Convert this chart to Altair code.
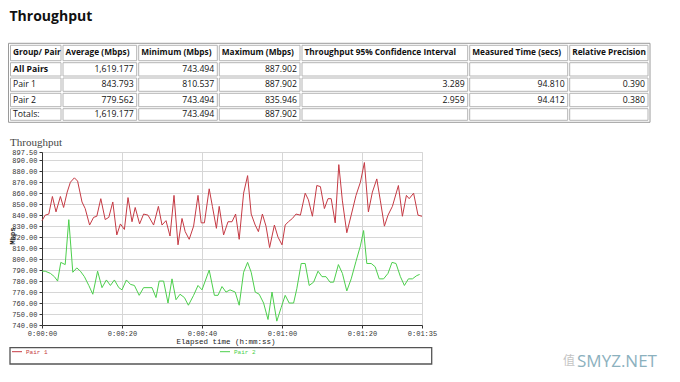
import altair as alt
import pandas as pd

# ---------------- data ----------------
page_title = "Throughput"
chart_title = "Throughput"

columns = ["Group/ Pair", "Average (Mbps)", "Minimum (Mbps)", "Maximum (Mbps)",
           "Throughput 95% Confidence Interval", "Measured Time (secs)", "Relative Precision"]
row_labels = ["All Pairs", "Pair 1", "Pair 2", "Totals:"]
avg_mbps = ["1,619.177", "843.793", "779.562", "1,619.177"]
min_mbps = ["743.494", "810.537", "743.494", "743.494"]
max_mbps = ["887.902", "887.902", "835.946", "887.902"]
conf_int = ["", "3.289", "2.959", ""]
meas_time = ["", "94.810", "94.412", ""]
rel_prec = ["", "0.390", "0.380", ""]

series_names = ["Pair 1", "Pair 2"]
series_colors = ["#c53a44", "#4ccf4c"]

pair1_t = [0.0, 0.8, 1.7, 2.6, 3.5, 4.6, 5.4, 6.3, 7.1, 8.1, 8.9, 10.0, 10.8, 11.9, 12.9, 13.7,
           14.7, 15.8, 16.7, 17.7, 18.7, 19.6, 20.6, 21.5, 22.5, 23.3, 24.4, 25.4, 26.5, 27.9,
           29.1, 30.0, 31.0, 32.0, 33.0, 34.0, 35.0, 35.8, 36.8, 37.9, 39.0, 39.8, 40.6, 41.8,
           42.6, 43.6, 44.3, 45.4, 46.5, 47.5, 48.4, 49.3, 50.4, 51.4, 52.3, 53.3, 54.1, 55.1,
           56.0, 56.9, 58.1, 59.0, 60.0, 60.8, 61.6, 62.6, 63.5, 64.6, 65.8, 66.6, 67.6, 68.7,
           69.6, 70.6, 71.5, 72.3, 73.3, 74.2, 75.1, 76.2, 77.3, 78.5, 79.6, 80.6, 81.6, 82.6,
           83.7, 84.6, 85.6, 86.5, 87.6, 89.1, 90.1, 91.1, 91.8, 92.9, 94.0, 95.0]
pair1_v = [835, 840, 841, 857, 843, 857, 847, 861, 870, 874, 871, 852, 846, 831, 838, 839,
           855, 836, 838, 852, 822, 832, 827, 856, 834, 847, 832, 841, 840, 831,
           848, 831, 835, 821, 858, 813, 837, 825, 818, 830, 858, 833, 833, 864,
           848, 828, 848, 822, 834, 834, 841, 818, 860, 876, 841, 831, 825, 841,
           830, 810.5, 831, 820, 813, 831, 834, 837, 841, 840, 860, 854, 839, 867,
           866, 846, 855, 855, 833, 886, 853, 824, 840, 858, 870, 887.9, 843, 861,
           873, 853, 830, 840, 848, 867, 839, 858, 855, 860, 840, 839]

pair2_t = [0.0, 0.8, 2.1, 3.1, 3.9, 4.7, 5.8, 6.7, 7.7, 8.7, 9.6, 10.6, 11.7, 12.7, 13.9, 15.0,
           16.1, 17.1, 18.1, 19.2, 20.0, 21.1, 22.1, 23.1, 24.3, 25.4, 26.5, 27.5, 28.5, 29.3,
           30.4, 31.5, 32.5, 33.5, 34.5, 35.6, 36.6, 37.9, 39.0, 40.0, 40.8, 41.8, 43.1, 44.0,
           45.0, 46.0, 47.0, 48.3, 49.3, 50.4, 51.4, 52.3, 53.3, 54.3, 55.4, 56.5, 57.5, 58.7,
           59.8, 60.8, 61.8, 62.9, 63.7, 64.8, 65.8, 66.8, 67.9, 69.0, 70.0, 71.0, 72.0, 72.9,
           74.1, 75.1, 76.2, 77.3, 78.5, 79.6, 80.4, 81.2, 82.3, 83.3, 84.3, 85.4, 86.5, 87.5,
           88.5, 89.6, 90.6, 91.6, 92.6, 93.7, 94.4]
pair2_v = [789, 789, 787, 784, 780, 797, 795, 835.9, 788, 792, 789, 784, 776, 768, 789, 774,
           781, 776, 781, 774, 772, 781, 777, 776, 767, 774, 774, 774, 765, 780,
           780, 760, 782, 763, 768, 765, 758, 767, 776, 772, 780, 790, 767, 767,
           775, 770, 772, 770, 758, 788, 797, 788, 770, 768, 760, 745, 770, 743.5,
           756, 767, 760, 760, 773, 796, 796, 776, 779, 789, 784, 784, 779, 779,
           795, 787, 771, 782, 798, 812, 826, 796, 796, 793, 782, 782, 787, 797,
           796, 784, 776, 782, 782, 785, 786]

x_tick_values = [0, 20, 40, 60, 80, 95]
y_tick_values = [740, 750, 760, 770, 780, 790, 800, 810, 820, 830, 840, 850, 860, 870, 880, 890, 897.5]
x_title = "Elapsed time (h:mm:ss)"
y_title = "Mbps"

# ---------------- layout ----------------
PAD_L, PAD_T, PAD_R, PAD_B = 34, 144, 250, 49
W, H = 380, 173


def vx(px):
    return px - 8 - PAD_L


def vy(py):
    return py - 8 - PAD_T


col_edges = [8.5, 61, 136.7, 217.3, 300, 467.7, 567.7, 650]
row_edges = [43.3, 60.7, 76.0, 91.3, 106.7, 122.3]
SANS = "Open Sans"
MONO = "Liberation Mono"
TFS = 8.7
HFS = 8.3

# ---------------- table frame ----------------
body_cols = [row_labels, avg_mbps, min_mbps, max_mbps, conf_int, meas_time, rel_prec]
cells = []
ncol = len(columns)
nrow = len(row_labels) + 1
for r in range(nrow):
    for c in range(ncol):
        x0 = col_edges[c] + 2
        x1 = col_edges[c + 1] if c < ncol - 1 else col_edges[c + 1] - 2
        y0 = row_edges[r] + 2
        y1 = row_edges[r + 1] if r < nrow - 1 else row_edges[r + 1] - 2
        if r == 0:
            text, kind = columns[c], "header"
        else:
            text = body_cols[c][r - 1]
            if c == 0:
                kind = "labelbold" if r == 1 else "label"
            else:
                kind = "num"
        tx = x0 + 2.5 if kind != "num" else x1 - 3
        cells.append(dict(x0=vx(x0), x1=vx(x1), y0=vy(y0), y1=vy(y1),
                          tx=vx(tx), ty=vy((y0 + y1) / 2 - 0.5), text=text, kind=kind))
cells = pd.DataFrame(cells)

outer = alt.Chart(pd.DataFrame({"a": [0]})).mark_rect(
    fill="white", stroke="#9a9a9a", strokeWidth=1).encode(
    x=alt.value(vx(col_edges[0])), x2=alt.value(vx(col_edges[-1])),
    y=alt.value(vy(row_edges[0])), y2=alt.value(vy(row_edges[-1])))

cell_rects = alt.Chart(cells).mark_rect(fill="white", stroke="#b4b4b4", strokeWidth=1).encode(
    x=alt.X("x0:Q", scale=None, axis=None), x2="x1:Q",
    y=alt.Y("y0:Q", scale=None, axis=None), y2="y1:Q")


def cell_text(kind, align, weight, size):
    return alt.Chart(cells).transform_filter(alt.datum.kind == kind).mark_text(
        align=align, baseline="middle", font=SANS, fontSize=size, fontWeight=weight,
        color="#111").encode(
        x=alt.X("tx:Q", scale=None, axis=None),
        y=alt.Y("ty:Q", scale=None, axis=None),
        text="text:N")


header_txt = cell_text("header", "left", "bold", HFS)
labelb_txt = cell_text("labelbold", "left", "bold", TFS)
label_txt = cell_text("label", "left", "normal", TFS)
num_txt = cell_text("num", "right", "normal", TFS)

# ---------------- line chart ----------------
lines_df = pd.concat([
    pd.DataFrame({"t": pair1_t, "v": pair1_v, "series": series_names[0]}),
    pd.DataFrame({"t": pair2_t, "v": pair2_v, "series": series_names[1]}),
])

x_label_expr = ("'0:' + (floor(datum.value/60) < 10 ? '0' : '') + floor(datum.value/60) + ':' + "
                "(datum.value % 60 < 10 ? '0' : '') + (datum.value % 60)")

lines = alt.Chart(lines_df).mark_line(strokeWidth=1).encode(
    x=alt.X("t:Q", scale=alt.Scale(domain=[0, 95], nice=False, zero=False),
            axis=alt.Axis(values=x_tick_values, labelExpr=x_label_expr, title=None,
                          labelFont=MONO, labelFontSize=7, labelColor="#333",
                          tickSize=3, tickColor="#333", domainColor="#333",
                          gridColor="#d6d6d6", labelPadding=1, labelFlush=False)),
    y=alt.Y("v:Q", scale=alt.Scale(domain=[740, 897.5], nice=False, zero=False),
            axis=alt.Axis(values=y_tick_values, format=".2f", title=None,
                          labelFont=MONO, labelFontSize=7, labelColor="#333",
                          tickSize=3, tickColor="#333", domainColor="#333",
                          gridColor="#d6d6d6", labelPadding=2)),
    color=alt.Color("series:N", scale=alt.Scale(domain=series_names, range=series_colors),
                    legend=None),
    detail="series:N",
)

one = pd.DataFrame({"a": [0]})


def label(text, x, y, **kw):
    return alt.Chart(one).mark_text(**kw).encode(
        x=alt.value(x), y=alt.value(y), text=alt.value(text))


title_top = label(page_title, vx(9.5), vy(17), align="left", baseline="middle",
                  font=SANS, fontSize=14, fontWeight="bold", color="#111")
title_chart = label(chart_title, vx(10), vy(142.5), align="left", baseline="middle",
                    font="Liberation Serif", fontSize=11, color="#444")
x_title_txt = label(x_title, vx(226), vy(341.5), align="center", baseline="middle",
                    font=MONO, fontSize=7.5, color="#222")
y_title_txt = label(y_title, vx(13), vy(236), align="center", baseline="middle",
                    font=MONO, fontSize=7, fontWeight="bold", color="#222", angle=270)

# legend box
legend_box = alt.Chart(one).mark_rect(fill="white", stroke="#555", strokeWidth=1.3).encode(
    x=alt.value(vx(10)), x2=alt.value(vx(431.7)), y=alt.value(vy(347.7)), y2=alt.value(vy(364)))


def legend_entry(i, lx):
    ln = alt.Chart(one).mark_rule(color=series_colors[i], strokeWidth=1).encode(
        x=alt.value(vx(lx)), x2=alt.value(vx(lx + 10)), y=alt.value(vy(351.7)))
    tx = label(series_names[i], vx(lx + 14), vy(351.9), align="left", baseline="middle",
               font=MONO, fontSize=6, color=series_colors[i])
    return ln + tx


leg1 = legend_entry(0, 12)
leg2 = legend_entry(1, 220)

wm_char = label("值", vx(569), vy(361), align="center", baseline="middle",
                font="Noto Sans CJK SC", fontSize=12, color="#c4c4c4")
wm_text = label("SMYZ.NET", vx(617), vy(361.5), align="center", baseline="middle",
                font="Open Sans", fontSize=17, color="#7fa9b8", opacity=0.9)

chart = alt.layer(
    title_top, outer, cell_rects, header_txt, labelb_txt, label_txt, num_txt,
    title_chart, lines, x_title_txt, y_title_txt,
    legend_box, leg1, leg2, wm_char, wm_text,
).resolve_scale(x="independent", y="independent").properties(
    width=W, height=H,
    autosize=alt.AutoSizeParams(type="none"),
    padding={"left": PAD_L, "top": PAD_T, "right": PAD_R, "bottom": PAD_B},
).configure_view(stroke="#888", strokeWidth=1).configure(background="white")

chart.save("out.html", embed_options={"renderer": "svg", "actions": False})
